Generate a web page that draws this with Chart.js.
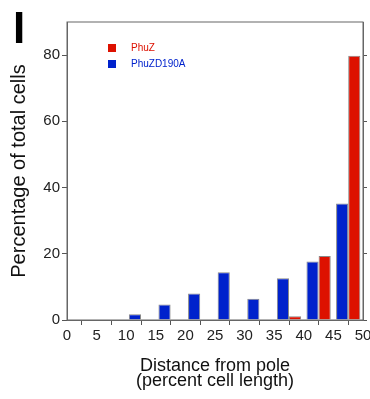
<!DOCTYPE html>
<html>
<head>
  <meta charset="UTF-8">
  <title>Distance from pole</title>
  <script src="https://cdn.jsdelivr.net/npm/chart.js@4.4.0/dist/chart.umd.min.js"></script>
  <style>
    body {
      margin: 0;
      padding: 0;
      background: #ffffff;
    }
    #wrap {
      width: 370px;
      height: 399px;
    }
  </style>
</head>
<body>
  <div id="wrap"><canvas id="myChart" width="370" height="399"></canvas></div>

  <script>
    // bins of 5% cell length, start of each bin
    const binStarts = [0, 5, 10, 15, 20, 25, 30, 35, 40, 45];
    const phuZ      = [0, 0, 0, 0, 0, 0, 0, 1.1, 19.3, 79.8];
    const phuZD190A = [0, 0, 1.7, 4.7, 8.0, 14.4, 6.4, 12.6, 17.7, 35.2];
    const xTicks = [0, 5, 10, 15, 20, 25, 30, 35, 40, 45, 50];
    const yTicks = [0, 20, 40, 60, 80];

    const RED = '#dd1100';
    const BLUE = '#0022cc';
    const FONT = 'Liberation Sans, Arial, Helvetica, sans-serif';

    function points(values) {
      return binStarts.map((b, i) => ({ x: b + 2.5, y: values[i] }));
    }

    // frame round the plot, panel letter and the small legend
    const extras = {
      id: 'extras',
      afterDraw(chart) {
        const ctx = chart.ctx;
        const a = chart.chartArea;
        ctx.save();
        ctx.strokeStyle = '#666';
        ctx.lineWidth = 1;
        ctx.strokeRect(a.left, a.top, a.right - a.left, a.bottom - a.top);

        ctx.fillStyle = '#000';
        ctx.font = 'bold 44px ' + FONT;
        ctx.textBaseline = 'alphabetic';
        ctx.textAlign = 'left';
        ctx.fillText('I', 13, 43);

        ctx.font = '10px ' + FONT;
        ctx.textBaseline = 'middle';
        chart.data.datasets.forEach((ds, i) => {
          const y = 48 + i * 16;
          ctx.fillStyle = ds.backgroundColor;
          ctx.fillRect(108, y - 4, 8, 8);
          ctx.fillText(ds.label, 131, y);
        });
        ctx.restore();
      }
    };

    const config = {
      type: 'bar',
      data: {
        datasets: [
          {
            label: 'PhuZ',
            data: points(phuZ),
            backgroundColor: RED,
            borderColor: '#888',
            borderWidth: 1,
            order: 2
          },
          {
            label: 'PhuZD190A',
            data: points(phuZD190A),
            backgroundColor: BLUE,
            borderColor: '#888',
            borderWidth: 1,
            order: 1
          }
        ]
      },
      options: {
        responsive: false,
        animation: false,
        layout: { padding: { top: 22, left: 0, right: 0, bottom: 0 } },
        datasets: {
          bar: { categoryPercentage: 0.82, barPercentage: 1.0 }
        },
        plugins: {
          legend: { display: false },
          tooltip: { enabled: false }
        },
        scales: {
          x: {
            type: 'linear',
            min: 0,
            max: 50,
            offset: false,
            afterBuildTicks: s => { s.ticks = xTicks.map(v => ({ value: v })); },
            afterFit: s => {
              s.height = 79;
              s.paddingLeft = 0;
              s.paddingRight = 0;
            },
            grid: { drawOnChartArea: false, tickLength: 5, color: '#555' },
            border: { color: '#666' },
            ticks: {
              color: '#222',
              padding: 2,
              maxRotation: 0,
              autoSkip: false,
              font: { family: FONT, size: 15 }
            },
            title: {
              display: true,
              text: ['Distance from pole', '(percent cell length)'],
              color: '#111',
              font: { family: FONT, size: 18, lineHeight: 15.5 / 18 },
              padding: { top: 0, bottom: 10 }
            }
          },
          y: {
            min: 0,
            max: 90,
            afterBuildTicks: s => { s.ticks = yTicks.map(v => ({ value: v })); },
            afterFit: s => { s.width = 67; },
            grid: { drawOnChartArea: false, tickLength: 5, color: '#555' },
            border: { color: '#666' },
            ticks: {
              color: '#222',
              padding: 2,
              font: { family: FONT, size: 15 }
            },
            title: {
              display: true,
              text: 'Percentage of total cells',
              color: '#111',
              font: { family: FONT, size: 20 },
              padding: { top: 7, bottom: 0 }
            }
          },
          y2: {
            position: 'right',
            min: 0,
            max: 90,
            afterBuildTicks: s => { s.ticks = yTicks.map(v => ({ value: v })); },
            afterFit: s => { s.width = 7; },
            grid: { drawOnChartArea: false, tickLength: 4, color: '#555' },
            border: { color: '#666' },
            ticks: { display: false }
          }
        }
      },
      plugins: [extras]
    };

    new Chart(document.getElementById('myChart'), config);
  </script>
</body>
</html>
